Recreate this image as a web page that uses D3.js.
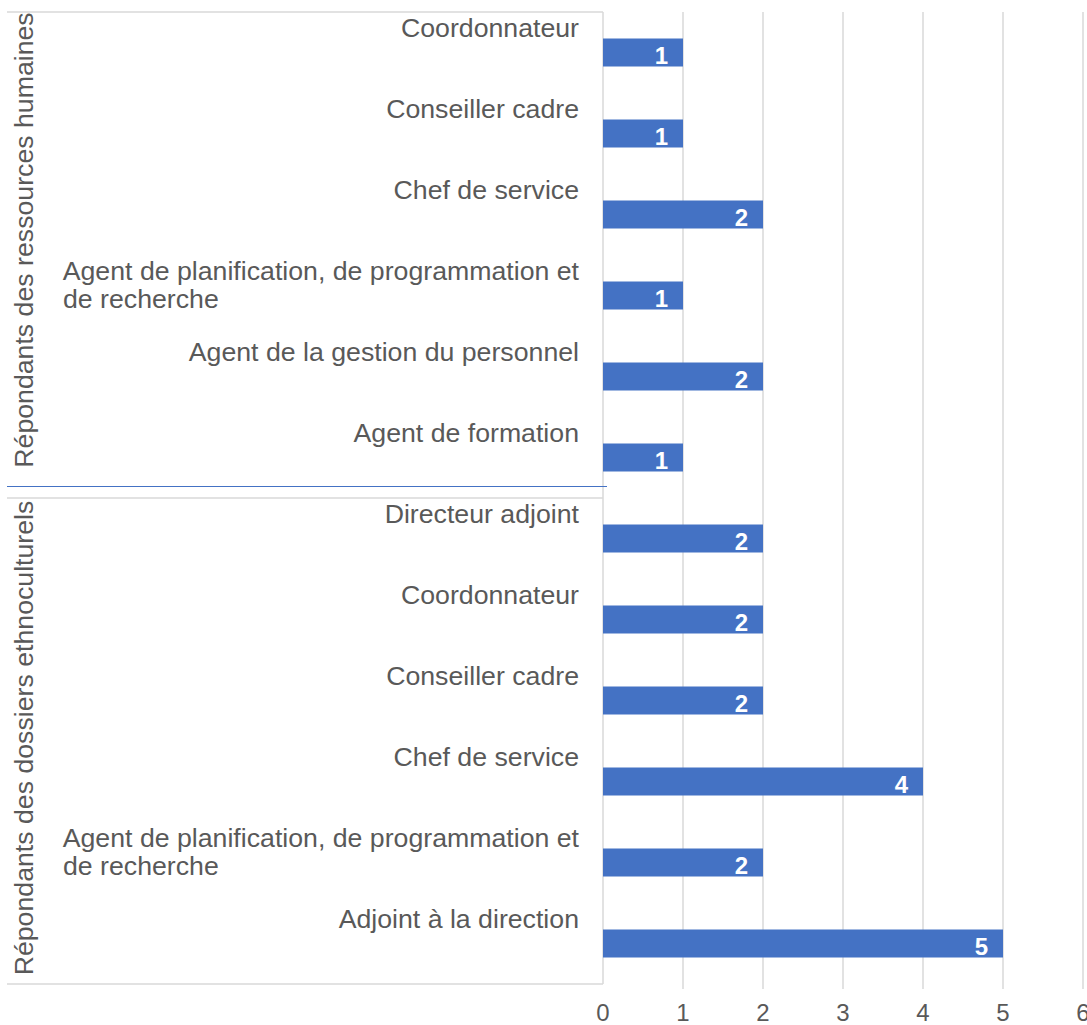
<!DOCTYPE html>
<html>
<head>
<meta charset="utf-8">
<script src="https://cdnjs.cloudflare.com/ajax/libs/d3/7.8.5/d3.min.js"></script>
<style>
  body { margin: 0; background: #fff; }
  text { font-family: "Liberation Sans", Arial, sans-serif; }
</style>
</head>
<body>
<div id="chart-area"></div>
<script>
// --> DATA
var groups = ["Répondants des ressources humaines", "Répondants des dossiers ethnoculturels"];
var groupOf = [0, 0, 0, 0, 0, 0, 1, 1, 1, 1, 1, 1];
var categories = [
  "Coordonnateur",
  "Conseiller cadre",
  "Chef de service",
  "Agent de planification, de programmation et|de recherche",
  "Agent de la gestion du personnel",
  "Agent de formation",
  "Directeur adjoint",
  "Coordonnateur",
  "Conseiller cadre",
  "Chef de service",
  "Agent de planification, de programmation et|de recherche",
  "Adjoint à la direction"
];
var values = [1, 1, 2, 1, 2, 1, 2, 2, 2, 4, 2, 5];
var ticks = [0, 1, 2, 3, 4, 5, 6];

// --> SVG
var width = 1087;
var height = 1025;
var svg = d3.select("#chart-area").append("svg")
  .attr("width", width)
  .attr("height", height);

var textColor = "#595959";
var gridColor = "#d9d9d9";
var barColor = "#4472c4";

// Scales
var x = d3.scaleLinear().domain([0, 6]).range([603, 1083]);
var y = d3.scaleBand().domain(d3.range(categories.length)).range([12, 984]);
var barH = 28;

// Gridlines
svg.append("g").selectAll("line")
  .data(ticks.slice(1))
  .enter().append("line")
  .attr("x1", function(d){ return x(d); })
  .attr("x2", function(d){ return x(d); })
  .attr("y1", 12)
  .attr("y2", 989)
  .attr("stroke", gridColor)
  .attr("stroke-width", 1.5);

// Category axis frame lines
var groupEdges = [y(0), y(6), y(11) + y.bandwidth()];
svg.append("g").selectAll("line")
  .data(groupEdges)
  .enter().append("line")
  .attr("x1", 7)
  .attr("x2", x(0))
  .attr("y1", function(d){ return d; })
  .attr("y2", function(d){ return d; })
  .attr("stroke", gridColor)
  .attr("stroke-width", 1.5);

svg.append("line")
  .attr("x1", x(0)).attr("x2", x(0))
  .attr("y1", 12).attr("y2", 984)
  .attr("stroke", gridColor)
  .attr("stroke-width", 1.5);

// blue separator line
svg.append("line")
  .attr("x1", 7).attr("x2", 607)
  .attr("y1", 486.5).attr("y2", 486.5)
  .attr("stroke", barColor)
  .attr("stroke-width", 1);

// Bars
svg.append("g").selectAll("rect")
  .data(values)
  .enter().append("rect")
  .attr("x", x(0))
  .attr("y", function(d, i){ return y(i) + y.bandwidth() / 2 - barH / 2; })
  .attr("width", function(d){ return x(d) - x(0); })
  .attr("height", barH)
  .attr("fill", barColor);

// Value labels
svg.append("g").selectAll("text")
  .data(values)
  .enter().append("text")
  .attr("x", function(d){ return x(d) - 15; })
  .attr("y", function(d, i){ return y(i) + y.bandwidth() / 2 + 11; })
  .attr("text-anchor", "end")
  .attr("fill", "#fff")
  .attr("font-weight", "bold")
  .attr("font-size", 24)
  .text(function(d){ return d; });

// Category labels
var catLabels = svg.append("g").selectAll("text")
  .data(categories)
  .enter().append("text")
  .attr("y", function(d, i){ return y(i) + 25; })
  .attr("fill", textColor)
  .attr("font-size", 26.7);

catLabels.each(function(d){
  var lines = d.split("|");
  var el = d3.select(this);
  var yy = +el.attr("y");
  lines.forEach(function(line, k){
    el.append("tspan")
      .attr("x", k == 0 ? 579 : 63)
      .attr("y", yy + k * 28)
      .attr("text-anchor", k == 0 ? "end" : "start")
      .text(line);
  });
});

// Group labels (rotated)
var groupCenters = [240, 738];
svg.append("g").selectAll("text")
  .data(groups)
  .enter().append("text")
  .attr("transform", function(d, i){ return "translate(33," + groupCenters[i] + ") rotate(-90)"; })
  .attr("text-anchor", "middle")
  .attr("fill", textColor)
  .attr("font-size", 26.7)
  .text(function(d){ return d; });

// X axis tick labels
svg.append("g").selectAll("text")
  .data(ticks)
  .enter().append("text")
  .attr("x", function(d){ return x(d); })
  .attr("y", 1021)
  .attr("text-anchor", "middle")
  .attr("fill", textColor)
  .attr("font-size", 24)
  .text(function(d){ return d; });
</script>
</body>
</html>
